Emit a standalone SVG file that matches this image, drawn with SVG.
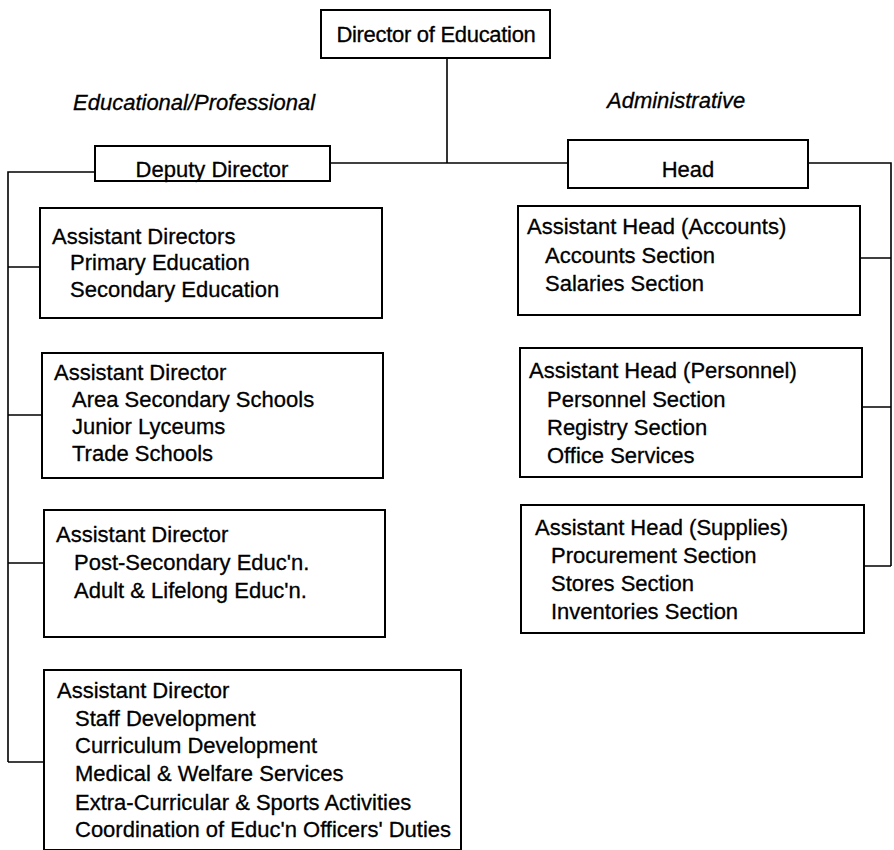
<svg xmlns="http://www.w3.org/2000/svg" width="894" height="850" viewBox="0 0 894 850">
<style>
  .box{fill:#fff;stroke:#000;stroke-width:2}
  .ln{fill:none;stroke:#000;stroke-width:1.6}
  text{font-family:"Liberation Sans",Arial,sans-serif;font-size:22px;fill:#000;stroke:#000;stroke-width:0.3}
  .c{text-anchor:middle}
  .it{font-style:italic;font-size:22px}
</style>
<rect width="894" height="850" fill="#fff"/>
<g id="connectors">
  <path class="ln" d="M447 58 V163"/>
  <path class="ln" d="M330 163 H568"/>
  <path class="ln" d="M95 172 H8 V762"/>
  <path class="ln" d="M8 267 H40 M8 415 H42 M8 563 H44 M8 762 H44"/>
  <path class="ln" d="M808 163 H891 V566"/>
  <path class="ln" d="M860 258 H891 M862 407 H891 M864 566 H891"/>
</g>
<g id="director">
  <rect class="box" x="321" y="10" width="229" height="48"/>
  <text class="c" x="436" y="42" style="letter-spacing:-0.3px">Director of Education</text>
</g>
<text class="it" x="73" y="110">Educational/Professional</text>
<text class="it" x="607" y="108">Administrative</text>
<g id="deputy">
  <rect class="box" x="95" y="146" width="235" height="35"/>
  <text class="c" x="212" y="177">Deputy Director</text>
</g>
<g id="head">
  <rect class="box" x="568" y="140" width="240" height="48"/>
  <text class="c" x="688" y="177">Head</text>
</g>
<g id="ad1">
  <rect class="box" x="40" y="208" width="342" height="110"/>
  <text x="52" y="244">Assistant Directors</text>
  <text x="70" y="270">Primary Education</text>
  <text x="70" y="297">Secondary Education</text>
</g>
<g id="ad2">
  <rect class="box" x="42" y="353" width="341" height="125"/>
  <text x="54" y="380">Assistant Director</text>
  <text x="72" y="407">Area Secondary Schools</text>
  <text x="72" y="434">Junior Lyceums</text>
  <text x="72" y="461">Trade Schools</text>
</g>
<g id="ad3">
  <rect class="box" x="44" y="510" width="341" height="127"/>
  <text x="56" y="542">Assistant Director</text>
  <text x="74" y="570">Post-Secondary Educ'n.</text>
  <text x="74" y="598">Adult &amp; Lifelong Educ'n.</text>
</g>
<g id="ad4">
  <rect class="box" x="44" y="670" width="417" height="180"/>
  <text x="57" y="698">Assistant Director</text>
  <text x="75" y="726">Staff Development</text>
  <text x="75" y="753">Curriculum Development</text>
  <text x="75" y="781">Medical &amp; Welfare Services</text>
  <text x="75" y="810">Extra-Curricular &amp; Sports Activities</text>
  <text x="75" y="837">Coordination of Educ'n Officers' Duties</text>
</g>
<g id="ah-accounts">
  <rect class="box" x="518" y="206" width="342" height="109"/>
  <text x="527" y="234">Assistant Head (Accounts)</text>
  <text x="545" y="263">Accounts Section</text>
  <text x="545" y="291">Salaries Section</text>
</g>
<g id="ah-personnel">
  <rect class="box" x="520" y="348" width="342" height="129"/>
  <text x="529" y="378">Assistant Head (Personnel)</text>
  <text x="547" y="407">Personnel Section</text>
  <text x="547" y="435">Registry Section</text>
  <text x="547" y="463">Office Services</text>
</g>
<g id="ah-supplies">
  <rect class="box" x="521" y="505" width="343" height="128"/>
  <text x="535" y="535">Assistant Head (Supplies)</text>
  <text x="551" y="563">Procurement Section</text>
  <text x="551" y="591">Stores Section</text>
  <text x="551" y="619">Inventories Section</text>
</g>
</svg>
